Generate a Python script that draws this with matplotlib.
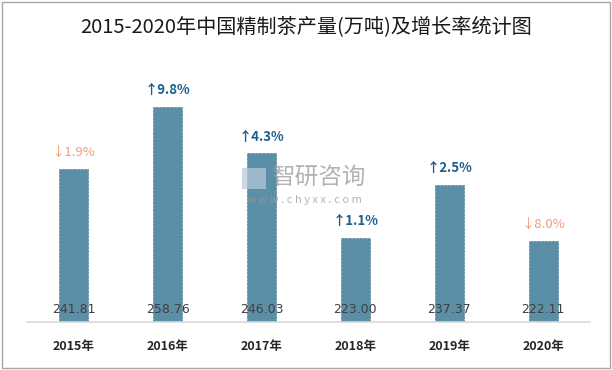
import matplotlib
matplotlib.use('Agg')
import matplotlib.pyplot as plt
from matplotlib.patches import Rectangle

plt.rcParams['font.family'] = ['Noto Sans CJK SC', 'DejaVu Sans']

# ================= data =================
years = ['2015年', '2016年', '2017年', '2018年', '2019年', '2020年']
output = [241.81, 258.76, 246.03, 223.00, 237.37, 222.11]
growth = [-1.9, 9.8, 4.3, 1.1, 2.5, -8.0]

COLOR_BAR = '#5B8FA7'
COLOR_UP = '#1B5F8C'
COLOR_DOWN = '#F39C7A'

fig = plt.figure(figsize=(6.12, 3.70), dpi=100)
ax = fig.add_axes([0.044, 0.13, 0.92, 0.693])

x_pos = range(len(years))
ax.bar(x_pos, output, width=0.31, color=COLOR_BAR, edgecolor='#4E7F96',
       linewidth=0.5, linestyle='--', zorder=2)

ax.set_xlim(-0.5, len(years) - 0.5)
ax.set_ylim(200, 270)

for i, v in enumerate(output):
    # value label near bottom of bar
    ax.annotate(f'{v:.2f}', xy=(i, 0), xycoords=('data', 'axes fraction'),
                xytext=(0, 8.6), textcoords='offset points',
                ha='center', va='center', fontsize=9, color='#404040',
                family='DejaVu Sans', zorder=3)
    g = growth[i]
    if g >= 0:
        arrow, col, fw = '↑', COLOR_UP, 'bold'
    else:
        arrow, col, fw = '↓', COLOR_DOWN, 'normal'
    ax.annotate(f'{arrow}{abs(g):.1f}%', xy=(i, v), xytext=(0, 7), textcoords='offset points',
                ha='center', va='bottom', fontsize=9.5, color=col, fontweight=fw,
                family=['Noto Sans CJK SC', 'DejaVu Sans'])

ax.set_xticks(list(x_pos))
ax.set_xticklabels(years, fontsize=9, fontweight='bold', color='#262626')
ax.tick_params(axis='x', length=0, pad=13)
ax.set_yticks([])
for side in ['top', 'right', 'left']:
    ax.spines[side].set_visible(False)
ax.spines['bottom'].set_color('#D9D9D9')
ax.spines['bottom'].set_linewidth(1.2)

# title
fig.text(0.5, 0.927, '2015-2020年中国精制茶产量(万吨)及增长率统计图',
         ha='center', va='center', fontsize=14.5, color='#1A1A1A')

# watermark
fig.text(0.52, 0.518, '智研咨询', ha='center', va='center', fontsize=17,
         color='#9A9A9A', alpha=0.75)
fig.text(0.497, 0.46, 'w w w . c h y x x . c o m', ha='center', va='center',
         fontsize=8, color='#9A9A9A', alpha=0.75)
fig.patches.append(Rectangle((0.395, 0.49), 0.04, 0.055, transform=fig.transFigure,
                             facecolor='#B8C8DA', edgecolor='none', alpha=0.7))

# outer border
fig.patches.append(Rectangle((0.004, 0.006), 0.992, 0.988, transform=fig.transFigure,
                             fill=False, edgecolor='#A6A6A6', linewidth=1))

fig.savefig('out.png', dpi=100)
